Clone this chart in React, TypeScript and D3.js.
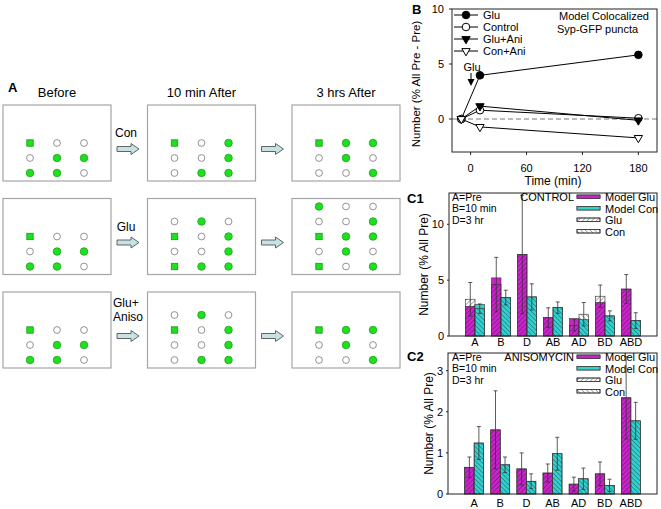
import React from 'react';
import * as d3 from 'd3';

const FONT = "'Liberation Sans', Arial, Helvetica, sans-serif";

// ---------- Panel A (schematic) ----------
const aColumnTitles = ['Before', '10 min After', '3 hrs After'];
const aTreatments = [['Con'], ['Glu'], ['Glu+', 'Aniso']];
const aBefore = ['soo', 'ogg', 'ggo'];
const aCon10 = ['sog', 'oog', 'ogg'];
const aCon3h = ['sgg', 'ogo', 'oog'];
const aGlu10 = ['ogo', 'sog', 'oog', 'sgg'];
const aGlu3h = ['goo', 'oog', 'sgg', 'ogo', 'sog'];
const aAni10 = ['ogo', 'sog', 'oog', 'ogg'];
const aAni3h = ['sgg', 'ogo', 'oog'];
const aRows = [
  [aBefore, aCon10, aCon3h],
  [aBefore, aGlu10, aGlu3h],
  [aBefore, aAni10, aAni3h],
];

// ---------- Panel B ----------
const bTimes = [-10, 10, 180];
const bNames = ['Glu', 'Control', 'Glu+Ani', 'Con+Ani'];
const bGlu = [0, 3.97, 5.83];
const bControl = [0, 0.8, 0.07];
const bGluAni = [0, 1.17, -0.12];
const bConAni = [0, -0.72, -1.72];
const bTicksX = [0, 60, 120, 180];
const bTicksY = [0, 5, 10];

// ---------- Panels C1 / C2 ----------
const cCategories = ['A', 'B', 'D', 'AB', 'AD', 'BD', 'ABD'];
const cLegendNames = ['Model Glu', 'Model Con', 'Glu', 'Con'];
const cKeyLines = ['A=Pre', 'B=10 min', 'D=3 hr'];

const c1ModelGlu = [2.66, 5.2, 7.3, 1.65, 1.56, 3.0, 4.2];
const c1DataGlu = [3.29, 4.6, 7.3, 1.65, 0.96, 3.56, 4.2];
const c1ErrGlu = [1.5, 2.44, 5.3, 0.87, 0.5, 1.0, 1.3];
const c1ModelCon = [2.82, 3.44, 3.5, 2.54, 1.47, 1.8, 1.38];
const c1DataCon = [2.45, 3.44, 3.5, 2.54, 1.95, 1.8, 1.38];
const c1ErrCon = [0.42, 0.66, 1.17, 0.51, 1.05, 0.45, 0.7];
const c1Ticks = [0, 5, 10];

const c2ModelGlu = [0.65, 1.56, 0.61, 0.51, 0.24, 0.49, 2.34];
const c2DataGlu = [0.65, 1.56, 0.61, 0.51, 0.24, 0.49, 2.34];
const c2ErrGlu = [0.25, 0.95, 0.39, 0.22, 0.17, 0.29, 1.0];
const c2ModelCon = [1.24, 0.71, 0.31, 0.98, 0.37, 0.21, 1.78];
const c2DataCon = [1.24, 0.71, 0.31, 0.98, 0.37, 0.21, 1.78];
const c2ErrCon = [0.4, 0.19, 0.18, 0.4, 0.26, 0.15, 0.45];
const c2Ticks = [0, 1, 2, 3];

const MAGENTA = '#cc22cc';
const CYAN = '#33d0d0';
const GREEN = '#1ee01e';
const GREEN_DARK = '#139a13';
const AXIS = '#222';

function PanelA() {
  const boxX = d3.scaleLinear().domain([0, 2]).range([3, 292]);
  const boxY = d3.scaleLinear().domain([0, 2]).range([105, 292]);
  const boxW = 108;
  const boxH = 76;
  const colX = d3.scaleLinear().domain([0, 2]).range([27, 81]);
  const rowStep = 15;
  const arrow = (x0: number, yc: number, key: string) => {
    const pts = [
      [x0, yc - 2.5], [x0 + 14, yc - 2.5], [x0 + 14, yc - 5.5], [x0 + 22, yc],
      [x0 + 14, yc + 5.5], [x0 + 14, yc + 2.5], [x0, yc + 2.5],
    ];
    return <polygon key={key} points={pts.map((p) => p.join(',')).join(' ')} fill="#c6e2e4" stroke="#555" strokeWidth={0.9} />;
  };
  return (
    <g fontFamily={FONT}>
      <text x={8} y={92} fontSize={13} fontWeight="bold">A</text>
      {aColumnTitles.map((t, j) => (
        <text key={t} x={boxX(j) + boxW / 2} y={97} fontSize={13} textAnchor="middle">{t}</text>
      ))}
      {aRows.map((row, r) => {
        const top = boxY(r);
        const bottom = top + boxH;
        return (
          <g key={r}>
            {row.map((grid, c) => {
              const left = boxX(c);
              const n = grid.length;
              return (
                <g key={c}>
                  <rect x={left} y={top} width={boxW} height={boxH} fill="#fff" stroke="#a5a5a5" strokeWidth={1.2} />
                  {grid.map((line, i) =>
                    line.split('').map((ch, j) => {
                      const cx = left + colX(j);
                      const cy = bottom - 8 - rowStep * (n - 1 - i);
                      if (ch === 's') return <rect key={`${i}-${j}`} x={cx - 3.2} y={cy - 3.2} width={6.4} height={6.4} fill={GREEN} stroke={GREEN_DARK} strokeWidth={0.8} />;
                      if (ch === 'g') return <circle key={`${i}-${j}`} cx={cx} cy={cy} r={3.8} fill={GREEN} stroke={GREEN_DARK} strokeWidth={0.7} />;
                      return <circle key={`${i}-${j}`} cx={cx} cy={cy} r={3.4} fill="#fff" stroke="#777" strokeWidth={0.8} />;
                    })
                  )}
                </g>
              );
            })}
            {arrow(boxX(0) + boxW + 6, top + 44, 'a1')}
            {arrow(boxX(1) + boxW + 6, top + 44, 'a2')}
            {aTreatments[r].length === 1 ? (
              <text x={126} y={top + 32} fontSize={12} textAnchor="middle">{aTreatments[r][0]}</text>
            ) : (
              aTreatments[r].map((t, k) => (
                <text key={t} x={113} y={top + 15 + k * 14} fontSize={12}>{t}</text>
              ))
            )}
          </g>
        );
      })}
    </g>
  );
}

function Marker({ x, y, kind, filled }: { x: number; y: number; kind: string; filled: boolean }) {
  if (kind === 'circle') {
    return <circle cx={x} cy={y} r={3.8} fill={filled ? '#000' : '#fff'} stroke="#000" strokeWidth={1} />;
  }
  const p = d3.symbol().type(d3.symbolTriangle).size(30)() as string;
  return <path d={p} transform={`translate(${x},${y}) rotate(180)`} fill={filled ? '#000' : '#fff'} stroke="#000" strokeWidth={1} />;
}

function PanelB() {
  const x = d3.scaleLinear().domain([-20, 200]).range([452, 657]);
  const y = d3.scaleLinear().domain([-3, 10]).range([152, 9]);
  const series = [bGlu, bControl, bGluAni, bConAni];
  const kinds = ['circle', 'circle', 'tri', 'tri'];
  const fills = [true, false, true, false];
  const line = d3.line<number>().x((_, i) => x(bTimes[i])).y((d) => y(d));
  const [x0, x1] = x.range();
  const [y0, y1] = y.range();
  return (
    <g fontFamily={FONT}>
      <text x={412} y={14} fontSize={13} fontWeight="bold">B</text>
      <line x1={x0} x2={x1} y1={y(0)} y2={y(0)} stroke="#777" strokeDasharray="5,3" strokeWidth={1} />
      {series.map((s, k) => (
        <path key={k} d={line(s) as string} fill="none" stroke="#000" strokeWidth={1} />
      ))}
      {series.map((s, k) =>
        s.map((v, i) => <Marker key={`${k}-${i}`} x={x(bTimes[i])} y={y(v)} kind={kinds[k]} filled={fills[k]} />)
      )}
      <rect x={x0} y={y1} width={x1 - x0} height={y0 - y1} fill="none" stroke={AXIS} strokeWidth={1} />
      {bTicksY.map((t) => (
        <g key={t}>
          <line x1={x0 - 3} x2={x0} y1={y(t)} y2={y(t)} stroke={AXIS} />
          <text x={x0 - 8} y={y(t) + 4} fontSize={11} textAnchor="end">{t}</text>
        </g>
      ))}
      {bTicksX.map((t) => (
        <g key={t}>
          <line x1={x(t)} x2={x(t)} y1={y0} y2={y0 + 3} stroke={AXIS} />
          <text x={x(t)} y={172} fontSize={11} textAnchor="middle">{t}</text>
        </g>
      ))}
      <text x={553} y={185} fontSize={12} textAnchor="middle">Time (min)</text>
      <text transform={`translate(420,84) rotate(-90)`} fontSize={11.5} textAnchor="middle">Number (% All Pre - Pre)</text>
      {bNames.map((n, k) => {
        const ly = 15 + k * 12;
        return (
          <g key={n}>
            <line x1={454} x2={478} y1={ly} y2={ly} stroke="#000" strokeWidth={1} />
            <Marker x={466} y={ly} kind={kinds[k]} filled={fills[k]} />
            <text x={483} y={ly + 4} fontSize={11}>{n}</text>
          </g>
        );
      })}
      <text x={559} y={20} fontSize={11}>Model Colocalized</text>
      <text x={557} y={33} fontSize={11}>Syp-GFP puncta</text>
      <text x={472} y={71} fontSize={11} textAnchor="middle">Glu</text>
      <line x1={471} x2={471} y1={73} y2={81} stroke="#000" strokeWidth={1} />
      <path d="M467.5,79 L474.5,79 L471,86 Z" fill="#000" />
    </g>
  );
}

type BarProps = {
  id: string;
  x: d3.ScaleLinear<number, number>;
  y: d3.ScaleLinear<number, number>;
  ticks: number[];
  mGlu: number[]; dGlu: number[]; eGlu: number[];
  mCon: number[]; dCon: number[]; eCon: number[];
  panelLabel: string; labelY: number;
  title: string;
  yLabelX: number;
  xLabelY: number;
};

function BarPanel(p: BarProps) {
  const { x, y } = p;
  const [x0, x1] = x.range();
  const [yb, yt] = y.range();
  const bw = 9.5;
  const cx = (i: number) => x(i + 1);
  const textBase = yt + 8;
  const groups = [
    { m: p.mGlu, d: p.dGlu, e: p.eGlu, fill: MAGENTA, pat: 'hatchF', off: -bw },
    { m: p.mCon, d: p.dCon, e: p.eCon, fill: CYAN, pat: 'hatchB', off: 0 },
  ];
  return (
    <g fontFamily={FONT}>
      <defs>
        <clipPath id={p.id}>
          <rect x={x0} y={yt} width={x1 - x0} height={yb - yt} />
        </clipPath>
      </defs>
      <text x={407} y={p.labelY} fontSize={13} fontWeight="bold">{p.panelLabel}</text>
      {groups.map((g, gi) => (
        <g key={gi}>
          {cCategories.map((_, i) => {
            const bx = cx(i) + g.off;
            return (
              <g key={i}>
                <rect x={bx} y={y(g.m[i])} width={bw} height={yb - y(g.m[i])} fill={g.fill} stroke="#333" strokeWidth={0.6} />
                <rect x={bx} y={y(g.d[i])} width={bw} height={yb - y(g.d[i])} fill={`url(#${g.pat})`} stroke="#333" strokeWidth={0.6} />
              </g>
            );
          })}
        </g>
      ))}
      <g clipPath={`url(#${p.id})`}>
        {groups.map((g, gi) =>
          cCategories.map((_, i) => {
            const ex = cx(i) + g.off + bw / 2;
            const lo = y(Math.max(0, g.d[i] - g.e[i]));
            const hi = y(g.d[i] + g.e[i]);
            return (
              <g key={`${gi}-${i}`} stroke="#333" strokeWidth={0.8}>
                <line x1={ex} x2={ex} y1={lo} y2={hi} />
                <line x1={ex - 2} x2={ex + 2} y1={hi} y2={hi} />
                <line x1={ex - 2} x2={ex + 2} y1={lo} y2={lo} />
              </g>
            );
          })
        )}
      </g>
      <rect x={x0} y={yt} width={x1 - x0} height={yb - yt} fill="none" stroke={AXIS} strokeWidth={1} />
      {p.ticks.map((t) => (
        <g key={t}>
          <line x1={x0 - 2} x2={x0} y1={y(t)} y2={y(t)} stroke={AXIS} />
          <text x={x0 - 5} y={y(t) + 4} fontSize={11} textAnchor="end">{t}</text>
        </g>
      ))}
      {cCategories.map((c, i) => (
        <text key={c} x={cx(i)} y={p.xLabelY} fontSize={11} textAnchor="middle">{c}</text>
      ))}
      <text transform={`translate(${p.yLabelX},${(yt + yb) / 2}) rotate(-90)`} fontSize={12} textAnchor="middle">Number (% All Pre)</text>
      {cKeyLines.map((t, k) => (
        <text key={t} x={452} y={textBase + k * 11.3} fontSize={10.5}>{t}</text>
      ))}
      <text x={574} y={textBase} fontSize={11} textAnchor="end">{p.title}</text>
      {cLegendNames.map((n, k) => {
        const ly = textBase + k * 11.5;
        const sw = k === 0 ? { fill: MAGENTA } : k === 1 ? { fill: CYAN } : k === 2 ? { fill: 'url(#hatchF)' } : { fill: 'url(#hatchB)' };
        return (
          <g key={n}>
            <rect x={577} y={ly - 6} width={23} height={3.5} fill="#fff" stroke="#333" strokeWidth={0.7} />
            <rect x={577} y={ly - 6} width={23} height={3.5} fill={sw.fill} stroke="#333" strokeWidth={0.7} />
            <text x={605} y={ly} fontSize={11}>{n}</text>
          </g>
        );
      })}
    </g>
  );
}

export default function App() {
  const xC1 = d3.scaleLinear().domain([0, 8]).range([449, 657]);
  const yC1 = d3.scaleLinear().domain([0, 12.8]).range([336, 193]);
  const xC2 = d3.scaleLinear().domain([0, 8]).range([448, 657]);
  const yC2 = d3.scaleLinear().domain([0, 3.43]).range([494, 353]);
  return (
    <svg width={661} height={509} style={{ position: 'absolute', left: 0, top: 0, background: '#fff' }}>
      <defs>
        <pattern id="hatchF" patternUnits="userSpaceOnUse" width={3.3} height={3.3} patternTransform="rotate(45)">
          <line x1={0} y1={0} x2={0} y2={3.3} stroke="#2a1a2a" strokeWidth={1} strokeOpacity={0.75} />
        </pattern>
        <pattern id="hatchB" patternUnits="userSpaceOnUse" width={3.3} height={3.3} patternTransform="rotate(-45)">
          <line x1={0} y1={0} x2={0} y2={3.3} stroke="#1a2a2a" strokeWidth={1} strokeOpacity={0.75} />
        </pattern>
      </defs>
      <rect width={661} height={509} fill="#fff" />
      <PanelA />
      <PanelB />
      <BarPanel id="clipC1" x={xC1} y={yC1} ticks={c1Ticks}
        mGlu={c1ModelGlu} dGlu={c1DataGlu} eGlu={c1ErrGlu}
        mCon={c1ModelCon} dCon={c1DataCon} eCon={c1ErrCon}
        panelLabel="C1" labelY={203} title="CONTROL" yLabelX={428} xLabelY={346} />
      <BarPanel id="clipC2" x={xC2} y={yC2} ticks={c2Ticks}
        mGlu={c2ModelGlu} dGlu={c2DataGlu} eGlu={c2ErrGlu}
        mCon={c2ModelCon} dCon={c2DataCon} eCon={c2ErrCon}
        panelLabel="C2" labelY={361} title="ANISOMYCIN" yLabelX={433} xLabelY={507} />
    </svg>
  );
}
